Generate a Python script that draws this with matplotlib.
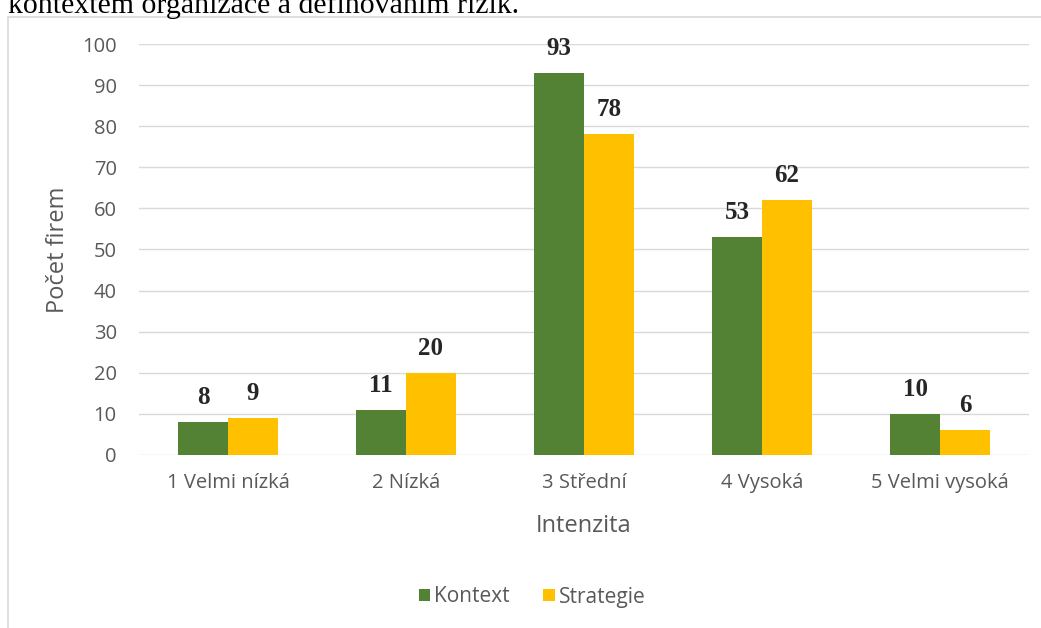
import matplotlib
matplotlib.use("Agg")
import matplotlib.pyplot as plt
import numpy as np
from matplotlib.patches import Rectangle

categories = ["1 Velmi nízká", "2 Nízká", "3 Střední", "4 Vysoká", "5 Velmi vysoká"]
kontext = [8, 11, 93, 53, 10]
strategie = [9, 20, 78, 62, 6]
yticks = list(range(0, 101, 10))

green = "#548235"
yellow = "#FFC000"
gray = "#595959"

plt.rcParams["font.family"] = ["Open Sans", "DejaVu Sans"]

fig = plt.figure(figsize=(10.41, 6.28), dpi=100)
W, H = 1041, 628

# chart frame (only the left and top edges are inside the image)
fig.patches.append(Rectangle((8 / W, -0.1), 1.2, 1 - 17 / H + 0.1,
                             transform=fig.transFigure, fill=False,
                             edgecolor="#d9d9d9", linewidth=1.2))

# caption line above the chart, cut off by the top edge
fig.text(8 / W, 1 - 13 / H, "kontextem organizace a definováním rizik.",
         family="Liberation Serif", fontsize=21.5, color="black",
         ha="left", va="baseline")

ax = fig.add_axes([139 / W, 173 / H, (1029 - 139) / W, (455 - 44) / H])
x = np.arange(len(categories))
w = 0.28
b1 = ax.bar(x - w / 2, kontext, w, color=green, label="Kontext")
b2 = ax.bar(x + w / 2, strategie, w, color=yellow, label="Strategie")

for bars, vals in ((b1, kontext), (b2, strategie)):
    for bar, v in zip(bars, vals):
        ax.text(bar.get_x() + bar.get_width() / 2, v + 4.4, str(v),
                ha="center", va="baseline", family="Liberation Serif",
                fontweight="bold", fontsize=18, color="#262626")

ax.set_xlim(-0.5, len(categories) - 0.5)
ax.set_ylim(0, 100)
ax.set_yticks(yticks)
ax.set_xticks(x)
ax.set_xticklabels(categories)
ax.yaxis.grid(True, color="#d9d9d9", linewidth=1)
ax.set_axisbelow(True)
for s in ax.spines.values():
    s.set_visible(False)
ax.tick_params(axis="both", length=0, labelsize=14.5, labelcolor=gray)
ax.tick_params(axis="y", pad=16)
ax.tick_params(axis="x", pad=13)

ax.set_ylabel("Počet firem", fontsize=17, color=gray)
ax.yaxis.set_label_coords(58 / W, 1 - 250 / H, transform=fig.transFigure)
ax.set_xlabel("Intenzita", fontsize=17, color=gray)
ax.xaxis.set_label_coords(584 / W, 1 - 526 / H, transform=fig.transFigure)
ax.xaxis.label.set_va("center")
ax.yaxis.label.set_va("center")

ax.legend(loc="center", bbox_to_anchor=(532 / W, 1 - 597 / H),
          bbox_transform=fig.transFigure, ncol=2, frameon=False,
          fontsize=15, labelcolor=gray, handlelength=0.55, handleheight=0.55,
          handletextpad=0.2, columnspacing=1.6)

fig.savefig("out.png", dpi=100)
